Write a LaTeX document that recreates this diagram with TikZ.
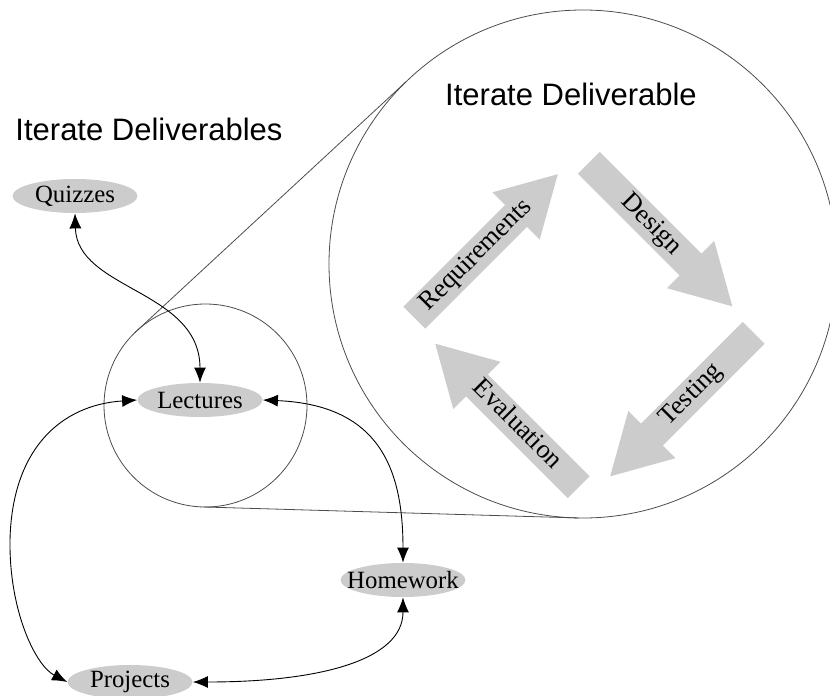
\documentclass[tikz,border=0pt]{standalone}
\usepackage{fontspec}
\setmainfont{Liberation Serif}
\newfontfamily\titlefont{Liberation Sans}
\usetikzlibrary{shapes, arrows.meta}
\tikzset{
  task/.style={
    ellipse,
    fill=gray!40,
    minimum width=62.5pt,
    minimum height=17pt,
    inner sep=0pt
  },
  phase arrow/.style={
    single arrow,
    fill=gray!40,
    minimum height=101.5pt,
    single arrow head extend=9pt,
    single arrow tip angle=59,
    inner xsep=2pt,
    inner ysep=1.5pt,
    text height=9pt,
    text depth=3pt,
    font=\fontsize{13.2}{15}\selectfont,
    anchor=tail
  },
}
\tikzstyle{lens} = [circle, draw=black!70, line width=0.4pt, inner sep=0pt, outer sep=0pt]
\tikzstyle{title} = [font=\titlefont\fontsize{15.5}{18}\selectfont]
\tikzstyle{link} = [draw, <->, >={Latex[length=7.5pt,width=6pt]}, line width=0.45pt]

\begin{document}
\begin{tikzpicture}[x=0.5pt, y=-0.5pt, font=\fontsize{12.4}{14}\selectfont]
        \useasboundingbox (0,0) rectangle (830,696);

        % lenses
        \node [lens, minimum size=101.5pt] (zoom) at (205.5,405.5) {};
        \node [lens, minimum size=254pt] (detail) at (583,264) {};
        \draw [black!70, line width=0.4pt] (zoom.134) -- (detail.134);
        \draw [black!70, line width=0.4pt] (zoom.-91.5) -- (detail.-91.5);

        % titles
        \node [title] (outer) at (149,129) {Iterate Deliverables};
        \node [title] (inner) at (571,94) {Iterate Deliverable};

        % tasks
        \node [task, label=center:Quizzes] (quiz) at (75,196) {};
        \node [task, label=center:Lectures] (lect) at (200,400) {};
        \node [task, label=center:Homework] (home) at (403,580) {};
        \node [task, label=center:Projects] (proj) at (130,682) {};

        % links
        \draw [link] (quiz.south) .. controls (77,290) and (200,290) .. (lect.north);
        \draw [link] (lect.west) .. controls (60,405) and (12,450) .. (10,540)
                     .. controls (9,610) and (35,665) .. (proj.west);
        \draw [link] (lect.east) .. controls (380,405) and (403,470) .. (home.north);
        \draw [link] (home.south) .. controls (403,660) and (320,682) .. (proj.east);

        % phases
        \node [phase arrow, rotate=45] (req) at (414,318) {Requirements};
        \node [phase arrow, rotate=-45] (design) at (588.5,162.5) {Design};
        \node [phase arrow, rotate=45, shape border rotate=180] (test) at (754,332.5) {Testing};
        \node [phase arrow, rotate=-45, shape border rotate=180] (eval) at (579,487.5) {Evaluation};
\end{tikzpicture}
\end{document}
